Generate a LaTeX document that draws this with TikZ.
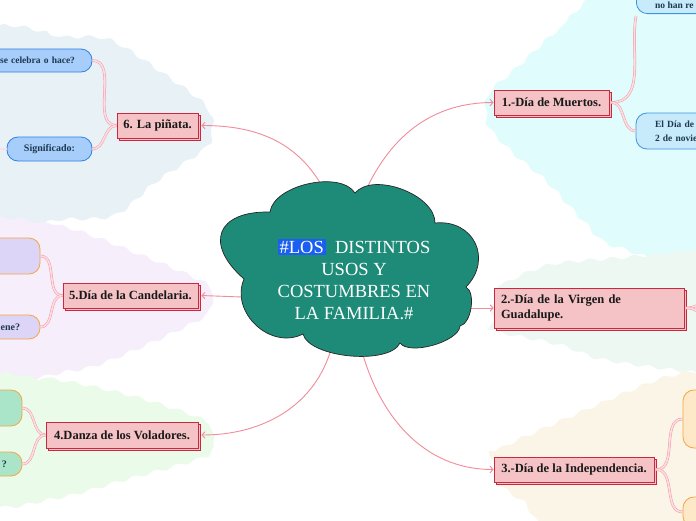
\documentclass[tikz,border=0pt]{standalone}
\usepackage{fontspec}
\setmainfont{Liberation Serif}
\usetikzlibrary{shadows,arrows.meta,decorations.pathmorphing}
\definecolor{cloudfill}{HTML}{1E8A78}
\definecolor{hlblue}{HTML}{1A5EF2}
\definecolor{nodefill}{HTML}{F5C2C5}
\definecolor{nodeline}{HTML}{C9283F}
\definecolor{connpink}{HTML}{F28B9A}
\definecolor{linkpink}{HTML}{F29AA6}
\definecolor{linkpale}{HTML}{FCDDE1}
\definecolor{childtext}{HTML}{1E3850}
\definecolor{bgsix}{HTML}{E8F1F6}
\definecolor{bgone}{HTML}{E0FCFC}
\definecolor{bgtwo}{HTML}{EEF8F3}
\definecolor{bgthree}{HTML}{FAF5E7}
\definecolor{bgfive}{HTML}{F6EFFB}
\definecolor{bgfour}{HTML}{EBFBE9}
\definecolor{bluefill}{HTML}{A7CEFB}
\definecolor{blueline}{HTML}{2F7FE0}
\definecolor{cyanfill}{HTML}{C8EBFB}
\definecolor{cyanline}{HTML}{3F92DC}
\definecolor{orangefill}{HTML}{FDE9C8}
\definecolor{orangeline}{HTML}{F4A640}
\definecolor{lavfill}{HTML}{DDD5F7}
\definecolor{greenfill}{HTML}{AAE5C9}
\begin{document}
\begin{tikzpicture}[x=1pt,y=1pt,
  blob/.style={decorate, decoration={snake, amplitude=1.6pt, segment length=22pt}},
  mainbox/.style={draw=nodeline, fill=nodefill, line width=0.8pt,
    copy shadow={shadow xshift=2pt, shadow yshift=-2pt},
    font=\bfseries\fontsize{12.5}{15}\selectfont, text=black!90,
    minimum height=25pt, inner xsep=5pt, inner ysep=3pt},
  childbox/.style={rounded corners=11pt, line width=0.8pt,
    font=\bfseries\fontsize{10}{14}\selectfont, text=childtext,
    minimum height=23pt, inner ysep=2pt},
  bluebox/.style={childbox, fill=bluefill, draw=blueline},
  cyanbox/.style={childbox, fill=cyanfill, draw=cyanline},
  orangebox/.style={childbox, fill=orangefill, draw=orangeline},
  lavbox/.style={childbox, fill=lavfill, draw=orangeline},
  greenbox/.style={childbox, fill=greenfill, draw=orangeline},
  childlink/.style={draw=linkpink, line width=0.5pt, double=linkpale, double distance=1.6pt},
  mainlink/.style={draw=connpink, line width=0.9pt, -{Straight Barb[length=3pt,width=6.5pt]}},
  puff/.style={bend left=70, looseness=#1}
]
\path[use as bounding box] (0,0) rectangle (696,-520);
\clip (0,0) rectangle (696,-520);
\fill[white] (0,0) rectangle (696,-520);

% background regions
\fill[bgsix, blob] plot[smooth cycle] coordinates {(-20,-37) (60,-37) (105,-40) (160,-75) (200,-105) (207,-127) (200,-148) (150,-182) (110,-215) (60,-219) (-20,-219)};
\fill[bgone, blob] plot[smooth cycle] coordinates {(612,14) (560,-28) (520,-65) (494,-88) (490,-105) (494,-125) (520,-152) (551,-178) (590,-220) (620,-243) (715,-245) (715,14)};
\fill[bgtwo, blob] plot[smooth cycle] coordinates {(490,-300) (500,-286) (547,-267) (623,-260) (696,-252) (718,-252) (718,-375) (696,-373) (603,-360) (560,-345) (494,-331) (490,-318)};
\fill[bgthree, blob] plot[smooth cycle] coordinates {(490,-462) (496,-451) (564,-420) (651,-383) (690,-374) (718,-372) (718,-535) (555,-535) (520,-505) (494,-487) (490,-476)};
\fill[bgfive, blob] plot[smooth cycle] coordinates {(-20,-225) (55,-225) (133,-253) (200,-282) (206,-296) (200,-314) (117,-353) (67,-368) (-20,-370)};
\fill[bgfour, blob] plot[smooth cycle] coordinates {(-20,-378) (45,-378) (133,-397) (200,-420) (206,-436) (200,-453) (117,-477) (50,-495) (-20,-497)};

% main topic nodes
\node[mainbox, minimum width=115pt] (n1) at (551.5,-102.5) {1.-Día de Muertos.};
\node[mainbox, minimum width=190pt, minimum height=40pt, text width=176pt, align=left, inner xsep=7pt] (n2) at (589,-308) {2.-Día de la Virgen de\\Guadalupe.};
\node[mainbox, minimum width=160pt] (n3) at (574,-469.5) {3.-Día de la Independencia.};
\node[mainbox, minimum width=152pt, minimum height=26pt] (n4) at (122,-435) {4.Danza de los Voladores.};
\node[mainbox, minimum width=135pt] (n5) at (130.5,-295.5) {5.Día de la Candelaria.};
\node[mainbox, minimum width=81pt] (n6) at (157.5,-125.5) {6. La piñata.};

% child boxes
\node[bluebox, text width=96pt, inner xsep=17pt, align=right, font=\bfseries\fontsize{9.5}{14}\selectfont] (c6a) at (27,-60.5) {se celebra o hace?};
\node[bluebox, minimum width=85pt, minimum height=24pt] (c6b) at (49.5,-149) {Significado:};
\coordinate (c6c) at (-12,-149);
\node[cyanbox, minimum width=124pt, minimum height=34pt, anchor=south west] (c1a) at (636,-14) {};
\node[font=\bfseries\fontsize{9.5}{14}\selectfont, text=childtext, anchor=base west, inner sep=0pt] (c1at) at (655,-8.5) {no han re};
\node[cyanbox, text width=100pt, inner xsep=19pt, align=left, minimum height=36pt, font=\bfseries\fontsize{9.5}{14.5}\selectfont] (c1b) at (705,-131) {El Día de\\2 de novie};
\coordinate (c2a) at (725,-292);
\coordinate (c2b) at (725,-326);
\node[orangebox, minimum width=80pt, minimum height=58pt] (c3a) at (723,-419) {};
\node[orangebox, minimum width=80pt, minimum height=30pt] (c3b) at (723,-512) {};
\node[lavbox, minimum width=80pt, minimum height=36pt] (c5a) at (0,-256) {};
\node[lavbox, text width=40pt, inner xsep=20pt, align=right, minimum height=24pt] (c5b) at (0,-327) {ene?};
\node[greenbox, minimum width=62pt, minimum height=36pt] (c4a) at (-9,-408) {};
\node[greenbox, text width=32pt, inner xsep=15pt, align=right, minimum height=24pt] (c4b) at (-9,-464) {?};

% child links
\draw[childlink] (n6.west) to[out=180,in=0] (c6a.east);
\draw[childlink] (n6.west) to[out=180,in=0] (c6b.east);
\draw[childlink] (c6b.west) -- (c6c);
\draw[childlink] ([xshift=2pt]n1.east) to[out=0,in=260] ([yshift=-2pt]c1a.south west);
\draw[childlink] ([xshift=2pt]n1.east) to[out=0,in=180] (c1b.west);
\draw[childlink] ([xshift=2pt]n2.east) to[out=0,in=180] (c2a);
\draw[childlink] ([xshift=2pt]n2.east) to[out=0,in=180] (c2b);
\draw[childlink] ([xshift=2pt]n3.east) to[out=0,in=180] (c3a.west);
\draw[childlink] ([xshift=2pt]n3.east) to[out=0,in=180] (c3b.west);
\draw[childlink] (n5.west) to[out=180,in=0] (c5a.east);
\draw[childlink] (n5.west) to[out=180,in=0] (c5b.east);
\draw[childlink] (n4.west) to[out=180,in=0] (c4a.east);
\draw[childlink] (n4.west) to[out=180,in=0] (c4b.east);

% connector start points on the cloud border
\coordinate (k6) at (322,-186);
\coordinate (k1) at (366,-190);
\coordinate (k2) at (470,-308);
\coordinate (k3) at (361,-348);
\coordinate (k4) at (332,-346);
\coordinate (k5) at (242,-297);

% main links
\draw[mainlink] (k6) to[out=120,in=0] ([xshift=3pt]n6.east);
\draw[mainlink] (k1) to[out=65,in=180] (n1.west);
\draw[mainlink] (k2) -- (n2.west);
\draw[mainlink] (k3) to[out=-75,in=180] (n3.west);
\draw[mainlink] (k4) to[out=-105,in=0] ([xshift=3pt]n4.east);
\draw[mainlink] (k5) -- ([xshift=3pt]n5.east);

% central cloud
\draw[fill=cloudfill, draw=black!85, line width=0.7pt]
  (244,-279) to[puff=1.9] (270,-212) to[puff=0.8] (355,-193) to[puff=0.85] (435,-223)
  to[puff=1.4] (466,-287) to[puff=0.75] (460,-326) to[puff=0.65] (400,-343)
  to[puff=0.65] (303,-334) to[puff=1.15] cycle;
\node[text=white, align=center, font=\fontsize{18.5}{22}\selectfont] (title) at (354,-279)
  {{\fboxsep=2pt\colorbox{hlblue}{\#LOS}}\enspace DISTINTOS\\USOS Y\\COSTUMBRES EN\\LA FAMILIA.\#};
\end{tikzpicture}
\end{document}
